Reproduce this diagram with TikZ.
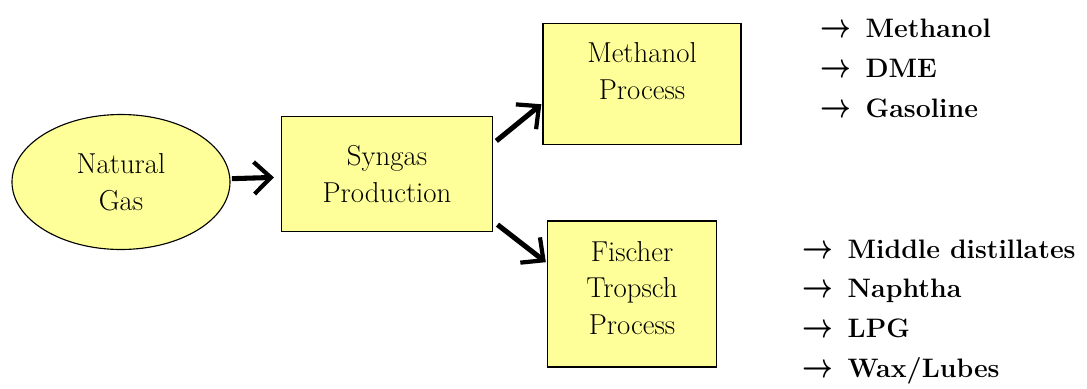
\documentclass[tikz,border=0pt]{standalone}
\usepackage{bm}
\usetikzlibrary{arrows.meta,shapes.geometric}

\definecolor{procyellow}{RGB}{255,255,153}
\newcommand{\yieldsto}{\scalebox{1.1}[1.4]{$\bm{\rightarrow}$}\hspace{0.55em}}

\begin{document}
\begin{tikzpicture}[
  every node/.style={align=center,font=\fontsize{20.5}{26.2}\selectfont},
  feed/.style={draw,thick,ellipse,fill=procyellow,minimum width=5.45cm,minimum height=3.375cm},
  block/.style={draw,thick,fill=procyellow,inner sep=0pt},
  products/.style={align=left,anchor=west,inner sep=0pt,font=\fontsize{19}{28.4}\selectfont\bfseries},
  to/.style={-{Straight Barb[length=4.2mm,width=8mm,line width=3pt]},line width=3.6pt}]

  \useasboundingbox (0,0) rectangle (27.175,-9.7);

  % Feed and the process blocks
  \node[feed] (Gas) at (3.025,-4.55) {Natural\\Gas};
  \node[block,minimum width=5.275cm,minimum height=2.875cm] (Syngas) at (9.675,-4.35) {Syngas\\Production};
  \node[block,minimum width=4.95cm,minimum height=3.025cm] (Meth) at (16.05,-2.1) {};
  \node (MethText) at ([yshift=0.33cm]Meth.center) {Methanol\\Process};
  \node[block,minimum width=4.225cm,minimum height=3.65cm] (FT) at (15.8,-7.35) {};
  \node (FTText) at ([yshift=0.15cm]FT.center) {Fischer\\Tropsch\\Process};

  % Product lists
  \node[products] (MethList) at (20.5,-1.7) {\yieldsto Methanol\\ \yieldsto DME\\ \yieldsto Gasoline};
  \node[products] (FTList) at (20.05,-7.8) {\yieldsto Middle distillates\\ \yieldsto Naphtha\\ \yieldsto LPG\\ \yieldsto Wax/Lubes};

  % Arrows between the blocks
  \draw[to,shorten <=1pt,shorten >=5pt] (Gas) -- (Syngas);
  \draw[to,shorten <=3pt,shorten >=1pt] (Syngas.16) -- (Meth.191);
  \draw[to,shorten <=4pt,shorten >=1pt] (Syngas.-24) -- (FT.160);
\end{tikzpicture}
\end{document}
